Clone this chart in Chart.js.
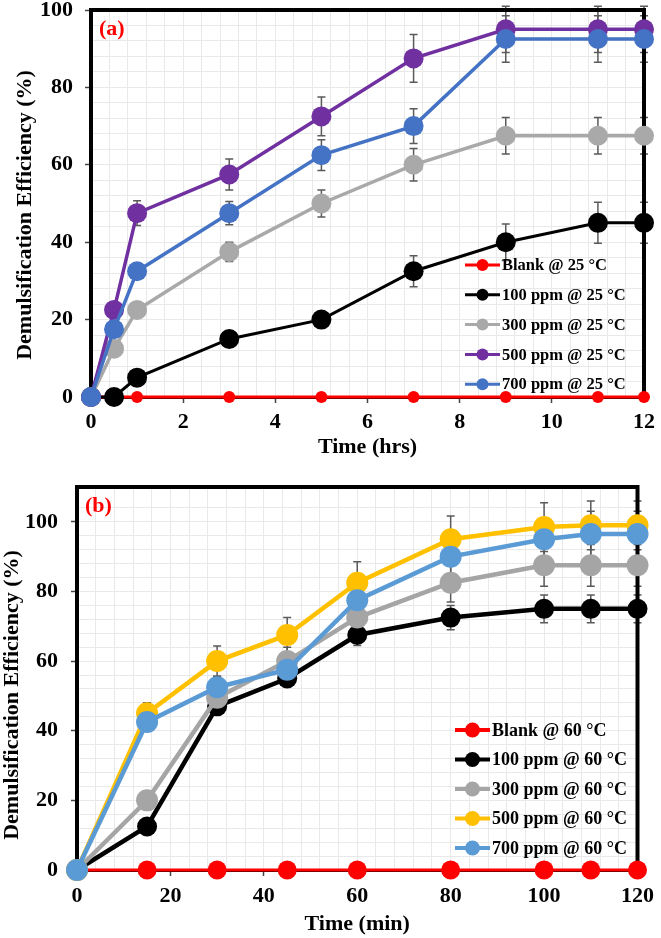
<!DOCTYPE html>
<html>
<head>
<meta charset="utf-8">
<script src="https://cdn.jsdelivr.net/npm/chart.js@4.4.0/dist/chart.umd.min.js"></script>
<style>
  html, body { margin: 0; padding: 0; background: #fff; }
  #wrap { position: relative; width: 661px; height: 938px; }
  canvas { position: absolute; left: 0; }
</style>
</head>
<body>
<div id="wrap">
  <canvas id="chartA" width="661" height="470" style="top:0"></canvas>
  <canvas id="chartB" width="661" height="468" style="top:470px"></canvas>
</div>
<script>
// ---- data, panel (a): 25 °C, time in hours
const timeA = [0, 0.5, 1, 3, 5, 7, 9, 11, 12];
const blankA = [0, 0, 0, 0, 0, 0, 0, 0, 0];
const ppm100A = [0, 0, 5, 15, 20, 32.5, 40, 45, 45];
const ppm300A = [0, 12.5, 22.5, 37.5, 50, 60, 67.5, 67.5, 67.5];
const ppm500A = [0, 22.5, 47.5, 57.5, 72.5, 87.5, 95, 95, 95];
const ppm700A = [0, 17.5, 32.5, 47.5, 62.5, 70, 92.5, 92.5, 92.5];
const err100A = [0, 0, 0, 0, 0, 4, 4.7, 5.3, 5.3];
const err300A = [0, 0, 0, 2.5, 3.5, 4.2, 4.7, 4.7, 4.7];
const err500A = [0, 0, 3.2, 4, 5, 6.2, 6, 6, 6];
const err700A = [0, 0, 2, 3, 4, 4.5, 6, 6, 6];
const labelsA = ["Blank @ 25 °C", "100 ppm @ 25 °C", "300 ppm @ 25 °C", "500 ppm @ 25 °C", "700 ppm @ 25 °C"];

// ---- data, panel (b): 60 °C, time in minutes
const timeB = [0, 15, 30, 45, 60, 80, 100, 110, 120];
const blankB = [0, 0, 0, 0, 0, 0, 0, 0, 0];
const ppm100B = [0, 12.5, 47, 55, 67.5, 72.5, 75, 75, 75];
const ppm300B = [0, 20, 49.5, 60, 72.5, 82.5, 87.5, 87.5, 87.5];
const ppm500B = [0, 45, 60, 67.5, 82.5, 95, 98.5, 99, 99];
const ppm700B = [0, 42.5, 52.5, 57.5, 77.5, 90, 95, 96.5, 96.5];
const err100B = [0, 0, 2, 2, 3, 3.5, 4, 4, 4];
const err300B = [0, 0, 3, 4, 4, 5.5, 6, 6, 6];
const err500B = [0, 3, 4.3, 5, 6, 6.7, 7, 7, 7];
const err700B = [0, 2, 3, 3, 4, 5, 5, 6.5, 6.5];
const labelsB = ["Blank @ 60 °C", "100 ppm @ 60 °C", "300 ppm @ 60 °C", "500 ppm @ 60 °C", "700 ppm @ 60 °C"];

const yTitle = "Demulsification Efficiency (%)";
const FONT = "'Liberation Serif', 'Times New Roman', serif";

// frame + error bars, drawn under the lines and markers
const framePlugin = {
  id: "frame",
  beforeDatasetsDraw(chart) {
    const { ctx, chartArea: a } = chart;
    const xs = chart.scales.x, ys = chart.scales.y;
    ctx.save();
    ctx.strokeStyle = "#5a5a5a";
    ctx.lineWidth = 1.5;
    chart.data.datasets.forEach((ds) => {
      if (!ds.errors) return;
      ds.data.forEach((p, i) => {
        const e = ds.errors[i];
        if (!e) return;
        const px = xs.getPixelForValue(p.x);
        const y1 = ys.getPixelForValue(p.y + e);
        const y2 = ys.getPixelForValue(p.y - e);
        ctx.beginPath();
        ctx.moveTo(px, y1); ctx.lineTo(px, y2);
        ctx.moveTo(px - 4, y1); ctx.lineTo(px + 4, y1);
        ctx.moveTo(px - 4, y2); ctx.lineTo(px + 4, y2);
        ctx.stroke();
      });
    });
    ctx.strokeStyle = "#000";
    ctx.lineWidth = 2;
    ctx.beginPath();
    ctx.moveTo(a.left, a.bottom + 1); ctx.lineTo(a.right, a.bottom + 1);
    ctx.stroke();
    ctx.lineWidth = 4;
    ctx.beginPath();
    ctx.moveTo(a.left, a.bottom + 2);
    ctx.lineTo(a.left, a.top);
    ctx.lineTo(a.right, a.top);
    ctx.lineTo(a.right, a.bottom + 2);
    ctx.stroke();
    ctx.restore();
  }
};

// Excel-style legend (line with marker), panel letter and the y title
const legendPlugin = {
  id: "excelLegend",
  afterDraw(chart, args, opts) {
    const ctx = chart.ctx;
    ctx.save();
    ctx.textBaseline = "middle";
    ctx.textAlign = "left";
    ctx.font = "bold " + opts.fontSize + "px " + FONT;
    chart.data.datasets.forEach((ds, i) => {
      const y = opts.y + i * opts.gap;
      ctx.strokeStyle = ds.borderColor;
      ctx.lineWidth = opts.lineWidth;
      ctx.beginPath();
      ctx.moveTo(opts.x, y); ctx.lineTo(opts.x + opts.len, y);
      ctx.stroke();
      ctx.fillStyle = ds.borderColor;
      ctx.beginPath();
      ctx.arc(opts.x + opts.len / 2, y, opts.r, 0, Math.PI * 2);
      ctx.fill();
      ctx.fillStyle = "#000";
      ctx.fillText(ds.label, opts.x + opts.len + 2, y + 1);
    });
    ctx.fillStyle = "#ff0000";
    ctx.font = "bold 22px " + FONT;
    ctx.fillText(opts.panel, opts.panelX, opts.panelY);

    // y axis title, sits a bit below the plot middle like the original
    ctx.fillStyle = "#000";
    ctx.textAlign = "center";
    ctx.translate(opts.titleX, opts.titleY);
    ctx.rotate(-Math.PI / 2);
    ctx.fillText(yTitle, 0, 0);
    ctx.restore();
  }
};

function series(label, xs, ys, errs, color, radius, width, order) {
  return {
    label: label,
    data: xs.map((x, i) => ({ x: x, y: ys[i] })),
    errors: errs,
    borderColor: color,
    backgroundColor: color,
    pointBackgroundColor: color,
    pointBorderColor: color,
    pointBorderWidth: 0,
    pointRadius: radius,
    borderWidth: width,
    order: order,
    clip: false
  };
}

function axes(p) {
  const tickFont = { family: FONT, size: 22, weight: "bold" };
  return {
    x: {
      type: "linear", min: 0, max: p.xMax,
      ticks: { stepSize: p.xStep, padding: p.xPad, color: "#000", font: tickFont, maxRotation: 0 },
      grid: { drawOnChartArea: false, drawTicks: true, tickLength: 6, tickColor: "#444", tickWidth: 1.5 },
      border: { display: false },
      title: { display: true, text: p.xTitle, color: "#000", font: tickFont, padding: 0 },
      afterFit(s) { s.height = p.xH; }
    },
    y: {
      type: "linear", min: 0, max: p.yMax,
      afterBuildTicks(s) { s.ticks = s.ticks.filter((t) => t.value % 20 === 0); },
      ticks: { stepSize: 20, padding: p.yPad, color: "#000", font: tickFont },
      grid: { drawOnChartArea: false, drawTicks: true, tickLength: 6, tickColor: "#444", tickWidth: 1.5 },
      border: { display: false },
      afterFit(s) {
        s.width = p.yW;
        // keep the plot box where the layout padding puts it
        s.paddingTop = 0;
        s.paddingBottom = 0;
      }
    },
    xg: {
      type: "linear", position: "bottom", min: 0, max: p.xMax,
      ticks: { display: false, stepSize: p.xMinor },
      grid: { color: "#e9e9e9", drawTicks: false },
      border: { display: false },
      afterFit(s) { s.height = 0; }
    },
    yg: {
      type: "linear", position: "left", min: 0, max: p.yMax,
      ticks: { display: false, stepSize: 4 },
      grid: { color: "#e9e9e9", drawTicks: false },
      border: { display: false },
      afterFit(s) { s.width = 0; s.paddingTop = 0; s.paddingBottom = 0; }
    }
  };
}

// ---- panel (a)
new Chart(document.getElementById("chartA"), {
  type: "line",
  data: {
    datasets: [
      series(labelsA[0], timeA, blankA, null, "#ff0000", 6, 3, 5),
      series(labelsA[1], timeA, ppm100A, err100A, "#000000", 10, 3, 4),
      series(labelsA[2], timeA, ppm300A, err300A, "#a9a9a9", 10, 3.5, 3),
      series(labelsA[3], timeA, ppm500A, err500A, "#7030a0", 10, 3.5, 2),
      series(labelsA[4], timeA, ppm700A, err700A, "#4472c4", 10, 3.5, 1)
    ]
  },
  options: {
    responsive: false,
    animation: false,
    layout: { padding: { left: 0, top: 8, right: 17, bottom: 9 } },
    scales: axes({ xMax: 12, xStep: 2, xMinor: 0.4, yMax: 100, xPad: 6, yPad: 12, xH: 64, yW: 91, xTitle: "Time (hrs)" }),
    plugins: {
      legend: { display: false },
      tooltip: { enabled: false },
      excelLegend: { x: 465, y: 265, gap: 29.8, len: 35, r: 6, lineWidth: 3, fontSize: 16.5,
        panel: "(a)", panelX: 99, panelY: 29, titleX: 25, titleY: 215 }
    }
  },
  plugins: [framePlugin, legendPlugin]
});

// ---- panel (b)
new Chart(document.getElementById("chartB"), {
  type: "line",
  data: {
    datasets: [
      series(labelsB[0], timeB, blankB, null, "#ff0000", 9.5, 3, 5),
      series(labelsB[1], timeB, ppm100B, err100B, "#000000", 10, 4.5, 4),
      series(labelsB[2], timeB, ppm300B, err300B, "#a5a5a5", 11, 4.5, 3),
      series(labelsB[3], timeB, ppm500B, err500B, "#ffc000", 11, 4.5, 2),
      series(labelsB[4], timeB, ppm700B, err700B, "#5b9bd5", 11, 4.5, 1)
    ]
  },
  options: {
    responsive: false,
    animation: false,
    layout: { padding: { left: 0, top: 17, right: 18, bottom: 0 } },
    scales: axes({ xMax: 120, xStep: 20, xMinor: 4, yMax: 110, xPad: 7, yPad: 13, xH: 68, yW: 77, xTitle: "Time (min)" }),
    plugins: {
      legend: { display: false },
      tooltip: { enabled: false },
      excelLegend: { x: 455, y: 260, gap: 29.5, len: 35, r: 7.5, lineWidth: 4, fontSize: 18,
        panel: "(b)", panelX: 85, panelY: 36, titleX: 12, titleY: 225 }
    }
  },
  plugins: [framePlugin, legendPlugin]
});
</script>
</body>
</html>
